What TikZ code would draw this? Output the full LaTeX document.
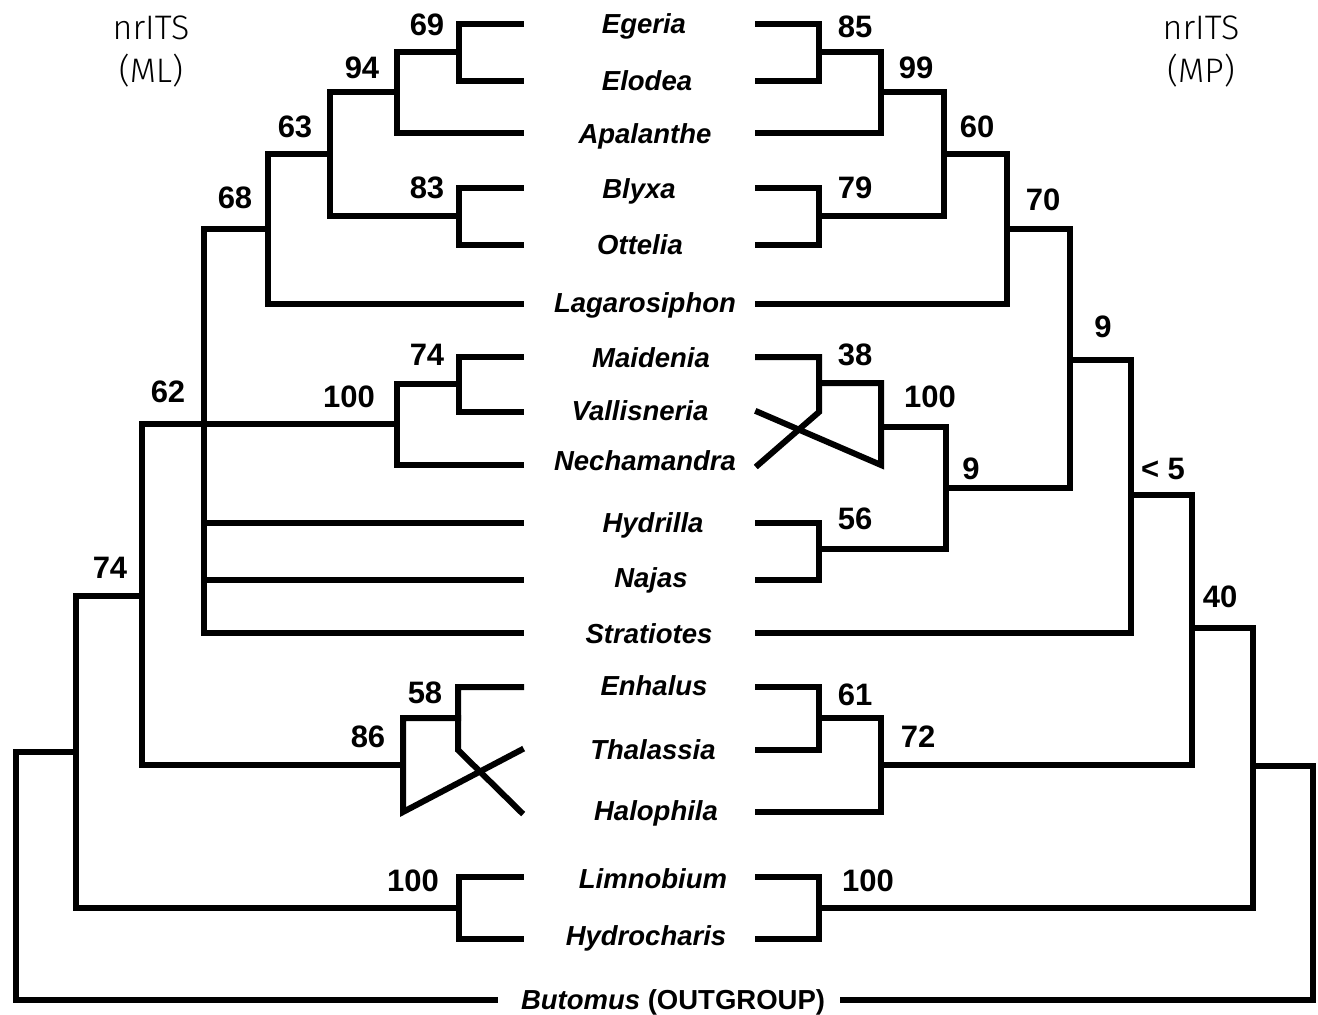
\documentclass[tikz,border=0pt]{standalone}
\usepackage{fontspec}
\setmainfont{Liberation Sans}
\newfontfamily\thinfont{Fira Sans Light}
\usepackage{tikz}

\begin{document}
\begin{tikzpicture}[x=1pt, y=-1pt,
    branch/.style={line width=6pt, line cap=rect, line join=miter},
    taxon/.style={font=\fontsize{27.5}{33}\selectfont\bfseries\itshape, text height=19.7pt, text depth=0pt, inner sep=0pt},
    support/.style={font=\fontsize{31}{36}\selectfont\bfseries, inner sep=0pt},
    header/.style={font=\fontsize{34}{43}\thinfont, align=center, inner sep=0pt}]
                \useasboundingbox (0,0) rectangle (1318,1015);

                % leaf tips, left (A) and right (B)
                \foreach \i/\y in {1/24,2/81,3/133,4/188,5/245,6/304,7/357,8/412,9/465,10/523,11/580,12/633,13/687,14/750,15/812,16/877,17/939} {
                    \coordinate (A\i) at (521,\y);
                    \coordinate (B\i) at (758,\y);
                }
                \coordinate (A18) at (495,1000);
                \coordinate (B18) at (843,1000);

                \node[taxon] (T1) at (644,24) {Egeria};
                \node[taxon] (T2) at (647,81) {Elodea};
                \node[taxon] (T3) at (645,134) {Apalanthe};
                \node[taxon] (T4) at (639,189) {Blyxa};
                \node[taxon] (T5) at (640,245) {Ottelia};
                \node[taxon] (T6) at (645,303) {Lagarosiphon};
                \node[taxon] (T7) at (651,358) {Maidenia};
                \node[taxon] (T8) at (640,411) {Vallisneria};
                \node[taxon] (T9) at (645,461) {Nechamandra};
                \node[taxon] (T10) at (653,523) {Hydrilla};
                \node[taxon] (T11) at (651,578) {Najas};
                \node[taxon] (T12) at (649,634) {Stratiotes};
                \node[taxon] (T13) at (654,686) {Enhalus};
                \node[taxon] (T14) at (653,750) {Thalassia};
                \node[taxon] (T15) at (656,811) {Halophila};
                \node[taxon] (T16) at (653,879) {Limnobium};
                \node[taxon] (T17) at (646,936) {Hydrocharis};
                \node[taxon] (T18) at (673,1000) {Butomus \upshape(OUTGROUP)};

                \node[header] (H1) at (151,51) {nrITS\\(ML)};
                \node[header] (H2) at (1201,51) {nrITS\\(MP)};

                % left tree (ML)
                \coordinate (L69) at (459,52);
                \coordinate (L94) at (397,92);
                \coordinate (L83) at (459,216);
                \coordinate (L63) at (330,154);
                \coordinate (L68) at (268,229);
                \coordinate (Lp) at (204,633);
                \coordinate (L74a) at (459,384);
                \coordinate (L100a) at (397,424);
                \coordinate (L58) at (458,718);
                \coordinate (L58k) at (458,750);
                \coordinate (L86) at (403,765);
                \coordinate (L86k) at (403,812);
                \coordinate (L62) at (142,596);
                \coordinate (L100b) at (459,908);
                \coordinate (L74b) at (76,752);
                \coordinate (Lr) at (16,1000);

                \draw[branch] (A1) -| (L69) |- (A2);
                \draw[branch] (L69) -| (L94) |- (A3);
                \draw[branch] (A4) -| (L83) |- (A5);
                \draw[branch] (L94) -| (L63) |- (L83);
                \draw[branch] (L63) -| (L68) |- (A6);
                \draw[branch] (L68) -| (Lp) -- (A12);
                \draw[branch] (A10) -- (A10 -| Lp);
                \draw[branch] (A11) -- (A11 -| Lp);
                \draw[branch] (A7) -| (L74a) |- (A8);
                \draw[branch] (L74a) -| (L100a) |- (A9);
                \draw[branch] (A13) -| (L58k) -- (A15);
                \draw[branch] (L58) -| (L86k) -- (A14);
                \draw[branch] (L100a) -| (L62) |- (L86);
                \draw[branch] (A16) -| (L100b) |- (A17);
                \draw[branch] (L62) -| (L74b) |- (L100b);
                \draw[branch] (L74b) -| (Lr) -- (A18);

                % right tree (MP)
                \coordinate (R85) at (819,52);
                \coordinate (R99) at (881,92);
                \coordinate (R79) at (819,216);
                \coordinate (R60) at (944,154);
                \coordinate (R70) at (1007,229);
                \coordinate (R38) at (819,383);
                \coordinate (R38k) at (819,412);
                \coordinate (R100a) at (881,427);
                \coordinate (R100k) at (881,465);
                \coordinate (R56) at (819,549);
                \coordinate (R9b) at (946,488);
                \coordinate (R9a) at (1070,360);
                \coordinate (R5) at (1131,495);
                \coordinate (R61) at (819,718);
                \coordinate (R72) at (881,765);
                \coordinate (R40) at (1192,628);
                \coordinate (R100b) at (819,908);
                \coordinate (Rt) at (1253,766);
                \coordinate (Rr) at (1313,1000);

                \draw[branch] (B1) -| (R85) |- (B2);
                \draw[branch] (R85) -| (R99) |- (B3);
                \draw[branch] (B4) -| (R79) |- (B5);
                \draw[branch] (R99) -| (R60) |- (R79);
                \draw[branch] (R60) -| (R70) |- (B6);
                \draw[branch] (B7) -| (R38k) -- (B9);
                \draw[branch] (R38) -| (R100k) -- (B8);
                \draw[branch] (B10) -| (R56) |- (B11);
                \draw[branch] (R100a) -| (R9b) |- (R56);
                \draw[branch] (R70) -| (R9a) |- (R9b);
                \draw[branch] (R9a) -| (R5) |- (B12);
                \draw[branch] (B13) -| (R61) |- (B14);
                \draw[branch] (R61) -| (R72) |- (B15);
                \draw[branch] (R5) -| (R40) |- (R72);
                \draw[branch] (B16) -| (R100b) |- (B17);
                \draw[branch] (R40) -| (Rt) |- (R100b);
                \draw[branch] (Rt) -| (Rr) -- (B18);

                % support values
                \node[support] (S69) at (427,25) {69};
                \node[support] (S94) at (362,68) {94};
                \node[support] (S63) at (295,127) {63};
                \node[support] (S83) at (427,188) {83};
                \node[support] (S68) at (235,198) {68};
                \node[support] (S74a) at (427,355) {74};
                \node[support] (S100a) at (349,397) {100};
                \node[support] (S62) at (168,392) {62};
                \node[support] (S74b) at (110,568) {74};
                \node[support] (S58) at (425,693) {58};
                \node[support] (S86) at (368,737) {86};
                \node[support] (S100b) at (413,881) {100};

                \node[support] (S85) at (855,27) {85};
                \node[support] (S99) at (916,68) {99};
                \node[support] (S60) at (977,127) {60};
                \node[support] (S79) at (855,188) {79};
                \node[support] (S70) at (1043,200) {70};
                \node[support] (S9a) at (1103,327) {9};
                \node[support] (S38) at (855,355) {38};
                \node[support] (S100c) at (930,397) {100};
                \node[support] (S9b) at (971,469) {9};
                \node[support] (S56) at (855,519) {56};
                \node[support] (S5) at (1163,469) {< 5};
                \node[support] (S40) at (1220,597) {40};
                \node[support] (S61) at (855,695) {61};
                \node[support] (S72) at (918,737) {72};
                \node[support] (S100d) at (868,881) {100};
            \end{tikzpicture}
\end{document}
